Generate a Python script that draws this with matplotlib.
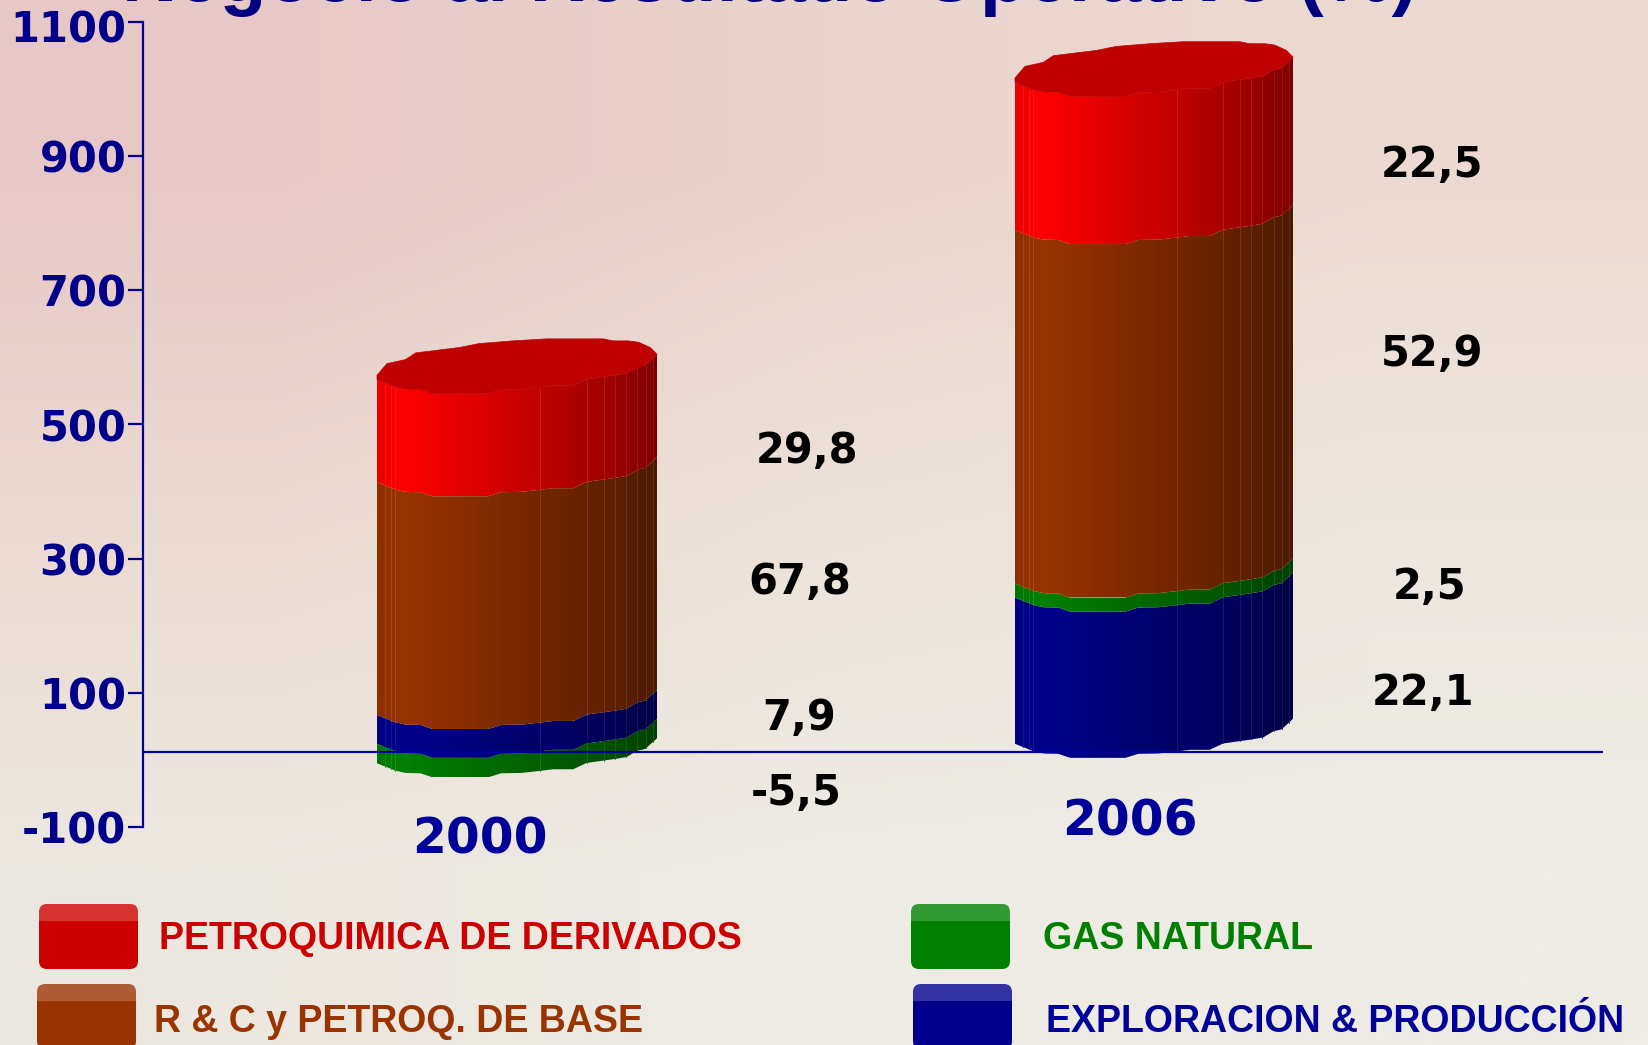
import numpy as np
import matplotlib
matplotlib.use('Agg')
import matplotlib.pyplot as plt
from matplotlib.patches import FancyBboxPatch, Polygon, Rectangle
from matplotlib.transforms import Affine2D

# values (stack heights on the value axis)
years = ['2000', '2006']
gas = [-29, 21]
exploracion = [43, 218]
refino = [347, 527]
petroquimica = [153, 220]
base_level = 24
pct_labels = [['29,8', '67,8', '7,9', '-5,5'], ['22,5', '52,9', '2,5', '22,1']]
y_ticks = [-100, 100, 300, 500, 700, 900, 1100]
legend_names = ['PETROQUIMICA DE DERIVADOS', 'GAS NATURAL',
                'R & C y PETROQ. DE BASE', 'EXPLORACION & PRODUCCIÓN']
title = 'Negocio al Resultado Operativo (%)'

NAVY = '#00008b'
RED = np.array([255, 0, 0]) / 255
BROWN = np.array([153, 51, 0]) / 255
GREEN = np.array([0, 128, 0]) / 255
BLUE = np.array([0, 0, 140]) / 255

plt.rcParams['axes.unicode_minus'] = False

W, H = 1649, 1045
fig = plt.figure(figsize=(W / 100, H / 100), dpi=100)

# pixel overlay for background and legend
bg = fig.add_axes([0, 0, 1, 1], zorder=0)
bg.set_xlim(0, W)
bg.set_ylim(H, 0)
bg.axis('off')
grad = np.array([[[231, 200, 198], [234, 212, 205], [236, 218, 210]],
                 [[235, 218, 210], [236, 226, 218], [237, 230, 222]],
                 [[236, 232, 224], [237, 235, 228], [237, 236, 229]]]) / 255
bg.imshow(grad, extent=[0, W, H, 0], aspect='auto', interpolation='bilinear')

# main axes
left, right, top, bottom = 143, 1603, 22, 827
ax = fig.add_axes([left / W, 1 - bottom / H, (right - left) / W, (bottom - top) / H], zorder=1)
ax.patch.set_alpha(0)
px = 1200 / (bottom - top)  # value units per pixel

# shape of the drum, pixels relative to the front-left corner
prof_x = np.array([105, 160, 190, 235, 270, 437, 475, 535, 590, 630, 690, 730, 780, 815, 850, 882, 905, 940])
prof_y = np.array([633, 655, 662, 663, 675, 675, 663, 662, 656, 651, 651, 632, 625, 620, 614, 595, 590, 558])
back_x = np.array([105, 135, 190, 220, 350, 410, 510, 610, 780, 810, 855, 885, 920, 940])
back_y = np.array([175, 140, 128, 108, 92, 80, 72, 66, 66, 72, 72, 76, 92, 112])
prof_fx = (prof_x - 105) / 835
front = (633 - prof_y) / 3 * px
back_fx = (back_x - 105) / 835
rear = (188 - back_y) / 3 * px
shade_x = [0, 0.1, 0.35, 0.6, 0.8, 1.0]
shade_v = [0.92, 1.0, 0.87, 0.74, 0.64, 0.5]
slats = [0.03, 0.05, 0.066, 0.583, 0.75, 0.81, 0.85, 0.89, 0.93, 0.96, 0.985]
shade_ramp = np.interp(np.linspace(0, 1, 280), shade_x, shade_v)


def band(x0, width, low, high, color):
    # horizontal shading, clipped to the band outline
    img = ax.imshow(np.outer(shade_ramp, color)[np.newaxis, :, :],
                    extent=[x0, x0 + width, low + front.min(), high + front.max()],
                    aspect='auto', interpolation='bilinear', zorder=2)
    xs = np.concatenate([prof_fx, prof_fx[::-1]]) * width + x0
    ys = np.concatenate([low + front, (high + front)[::-1]])
    img.set_clip_path(Polygon(np.column_stack([xs, ys]), transform=ax.transData))
    for s in slats:
        off = np.interp(s, prof_fx, front)
        ax.plot([x0 + s * width] * 2, [low + off, high + off],
                color=np.minimum(color * np.interp(s, shade_x, shade_v) + 0.1, 1),
                lw=0.6, zorder=2.5)


drum_x = [377, 1015]
drum_w = [280, 278]
for i in range(2):
    x0, w = drum_x[i], drum_w[i]
    if gas[i] < 0:
        band(x0, w, base_level + gas[i], base_level, GREEN)
        level = base_level
        order = [(exploracion[i], BLUE)]
    else:
        level = base_level
        order = [(exploracion[i], BLUE), (gas[i], GREEN)]
    order += [(refino[i], BROWN), (petroquimica[i], RED)]
    for h, c in order:
        band(x0, w, level, level + h, c)
        level += h
    # top face
    xs = np.concatenate([prof_fx, back_fx[::-1]])
    ys = np.concatenate([front, rear[::-1]])
    ax.fill(x0 + xs * w, level + ys, color='#be0000', lw=0.5, zorder=3)

ax.set_ylim(-100, 1100)
ax.set_xlim(left, right)

# zero line runs slightly above 0 in the original
ax.axhline(11.7, color='#000099', lw=1.6, zorder=4)

for s in ['top', 'right', 'bottom']:
    ax.spines[s].set_visible(False)
ax.spines['left'].set_color('#000099')
ax.spines['left'].set_linewidth(1.6)
ax.set_xticks([])
ax.set_yticks(y_ticks)
ax.tick_params(axis='y', length=11, width=1.6, color='#000099', pad=1)
for t in ax.get_yticklabels():
    t.set(fontsize=30, fontweight='bold', color=NAVY, family='DejaVu Sans', va='center_baseline')
top_label = ax.get_yticklabels()[-1]
top_label.set_transform(top_label.get_transform() + Affine2D().translate(0, -4))

# text, placed in pixels
label_pos = [[(807, 451), (800, 582), (799, 718), (796, 793)],
             [(1432, 165), (1432, 354), (1430, 587), (1423, 693)]]
for labs, pos in zip(pct_labels, label_pos):
    for s, (x, y) in zip(labs, pos):
        bg.text(x, y, s, fontsize=30, fontweight='bold', color='black', ha='center', va='center',
                family='DejaVu Sans', zorder=6)

for s, (x, y) in zip(years, [(480, 839), (1130, 822)]):
    bg.text(x, y, s, fontsize=35, fontweight='bold', color='#000099', ha='center', va='center',
            family='DejaVu Sans')

bg.text(770, 1, title, fontsize=55, fontweight='bold', color='#000080', ha='center', va='baseline',
        family='Liberation Sans', clip_on=False)

# legend
swatches = [(39, 904, RED * 0.8), (911, 904, GREEN), (37, 984, BROWN), (913, 984, BLUE)]
text_pos = [(159, 939, '#cc0000'), (1043, 939, '#008000'), (154, 1022, '#993300'), (1046, 1022, '#000099')]
for (x, y, c), (tx, ty, tc), name in zip(swatches, text_pos, legend_names):
    light = np.minimum(c * 0.8 + 0.2, 1)
    bg.add_patch(FancyBboxPatch((x, y + 30), 99, 35, boxstyle='round,pad=0,rounding_size=8', fc=c, ec='none', zorder=1))
    bg.add_patch(Rectangle((x, y + 17), 99, 25, fc=c, ec='none', zorder=1))
    bg.add_patch(FancyBboxPatch((x, y), 99, 17, boxstyle='round,pad=0,rounding_size=8', fc=light, ec='none', zorder=2))
    bg.add_patch(Rectangle((x, y + 9), 99, 8, fc=light, ec='none', zorder=2))
    bg.text(tx, ty, name, fontsize=27, fontweight='bold', color=tc, ha='left', va='center',
            family='Liberation Sans')

fig.savefig('out.png', dpi=100)
